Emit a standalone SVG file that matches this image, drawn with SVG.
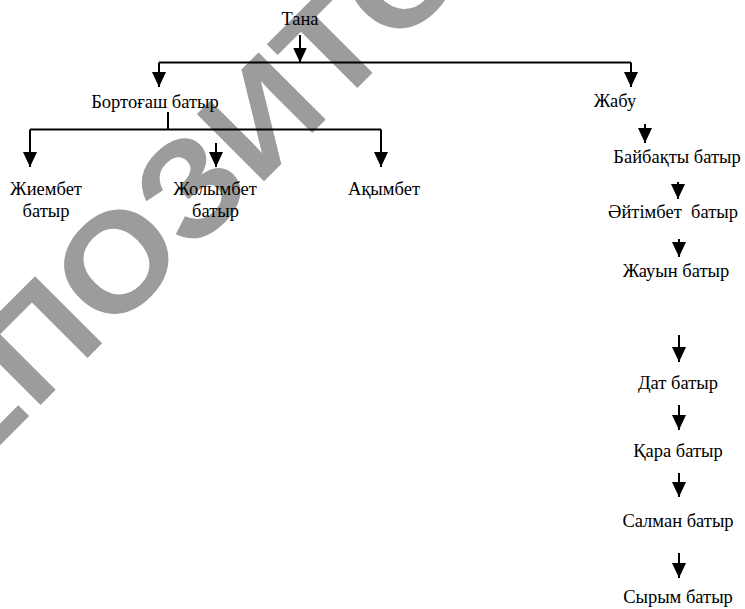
<svg xmlns="http://www.w3.org/2000/svg" width="745" height="609" viewBox="0 0 745 609">
<defs>
<style>
.t{font-family:"Liberation Serif","Times New Roman",serif;font-size:18.5px;fill:#000;text-anchor:middle;white-space:pre}
.c{stroke:#000;stroke-width:2;fill:none}
.a{stroke:#000;stroke-width:2;fill:none;marker-end:url(#ah)}
.wm{font-family:"Liberation Sans",Arial,sans-serif;font-weight:bold;font-size:138px;fill:#9c9c9c}
</style>
<marker id="ah" viewBox="0 0 15 14" refX="15" refY="7" markerWidth="15" markerHeight="14" markerUnits="userSpaceOnUse" orient="auto">
<path d="M0,0 L15,7 L0,14 Z" fill="#000"/>
</marker>
</defs>
<rect width="745" height="609" fill="#fff"/>
<text class="wm" transform="rotate(-45) scale(1.08,1)" x="-432" y="315">РЕПОЗИТОРИЙ</text>
<g id="connectors">
<path class="a" d="M300,35 V62.5"/>
<path class="c" d="M159,62.5 H631"/>
<path class="a" d="M159,62.5 V87"/>
<path class="a" d="M631,62.5 V87"/>
<path class="c" d="M168,112 V129.5"/>
<path class="c" d="M30,129.5 H381"/>
<path class="a" d="M30,129.5 V167"/>
<path class="a" d="M381,129.5 V167"/>
<path class="a" d="M216,143 V167"/>
<path class="a" d="M645,124 V143"/>
<path class="a" d="M678,182 V199"/>
<path class="a" d="M679,239 V257"/>
<path class="a" d="M679,335 V362"/>
<path class="a" d="M679,405 V430"/>
<path class="a" d="M679,473 V497"/>
<path class="a" d="M679,553 V578"/>
</g>
<g id="tana"><text class="t" x="300" y="25">Тана</text></g>
<g id="bortogash"><text class="t" x="155" y="108">Бортоғаш батыр</text></g>
<g id="zhiembet"><text class="t" x="46" y="195">Жиембет</text><text class="t" x="46" y="217">батыр</text></g>
<g id="zholymbet"><text class="t" x="215" y="195">Жолымбет</text><text class="t" x="215.5" y="217">батыр</text></g>
<g id="akymbet"><text class="t" x="384" y="195">Ақымбет</text></g>
<g id="zhabu"><text class="t" x="615" y="107">Жабу</text></g>
<g id="baibakty"><text class="t" x="677" y="163">Байбақты батыр</text></g>
<g id="aitimbet"><text class="t" x="673" y="218">Әйтімбет  батыр</text></g>
<g id="zhauyn"><text class="t" x="676" y="277">Жауын батыр</text></g>
<g id="dat"><text class="t" x="678" y="389">Дат батыр</text></g>
<g id="kara"><text class="t" x="678" y="457">Қара батыр</text></g>
<g id="salman"><text class="t" x="678" y="527">Салман батыр</text></g>
<g id="syrym"><text class="t" x="678" y="603">Сырым батыр</text></g>
</svg>
